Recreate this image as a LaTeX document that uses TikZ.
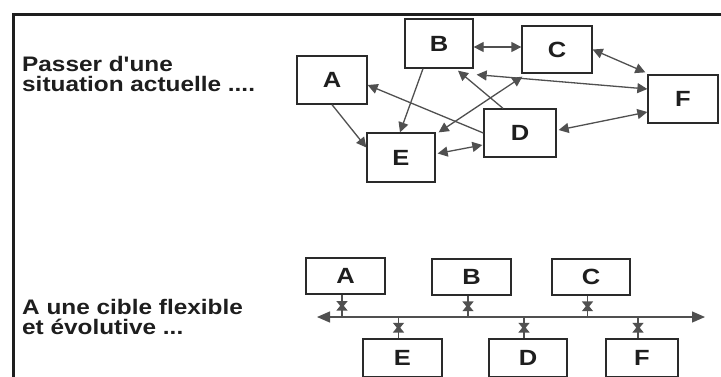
\documentclass[tikz,border=0pt]{standalone}
\usepackage{fontspec}
\newfontfamily\labfont{Liberation Sans}[FakeStretch=1.16]
\usetikzlibrary{arrows.meta,calc,decorations.markings}
\definecolor{boxc}{HTML}{2A2A2A}
\definecolor{arrc}{HTML}{505050}
\definecolor{framec}{HTML}{1E1E1E}
\definecolor{txtc}{HTML}{1E1E1E}
\begin{document}
\begin{tikzpicture}[x=1pt,y=-1pt,
  box/.style={draw=boxc, line width=1.3pt, fill=white, inner sep=0pt,
    font=\labfont\bfseries\fontsize{22}{22}\selectfont, text=txtc},
  conn/.style={draw=arrc, line width=1.3pt},
  >={Triangle[length=10pt,width=10pt]},
  txt/.style={font=\labfont\bfseries\fontsize{21}{20}\selectfont, align=left,
    inner sep=0pt, anchor=north west, text=txtc},
  bowtie/.style={postaction={decorate}, decoration={markings,
    mark=at position 0.6 with {\arrow[arrc]{Triangle[length=7pt,width=11pt]}},
    mark=at position 0.4 with {\arrowreversed[arrc]{Triangle[length=7pt,width=11pt]}}}}]
\clip (0,0) rectangle (721,376);
\fill[white] (0,0) rectangle (721,376);
% frame
\draw[line width=3pt, framec] (13,400) -- (13,14) -- (730,14);
% texts
\node[txt] (t1) at (22,56) {Passer d'une\\situation actuelle ....};
\node[txt] (t2) at (22,299) {A une cible flexible\\et évolutive ...};
% top boxes
\node[box, minimum width=70pt, minimum height=48pt] (A) at (332,80) {A};
\node[box, minimum width=68pt, minimum height=49pt] (B) at (439,43.5) {B};
\node[box, minimum width=70pt, minimum height=47pt] (C) at (557,49.5) {C};
\node[box, minimum width=70pt, minimum height=48pt] (F) at (683,99) {F};
\node[box, minimum width=72pt, minimum height=48pt] (D) at (520,133) {D};
\node[box, minimum width=68pt, minimum height=49pt] (E) at (401,157.5) {E};
% top connectors
\draw[conn,<->] ($(B.east)+(0,3.5)$) -- ($(C.west)+(0,-2.5)$);
\draw[conn,<->] (C.east) -- ($(F.north west)+(-2,-2)$);
\draw[conn,->] ($(B.south)+(-16,0)$) -- ($(E.north)+(-1,0)$);
\draw[conn,->] (A.south) -- ($(E.west)+(0,-10)$);
\draw[conn,->] (D.west) -- ($(A.east)+(0,5)$);
\draw[conn,->] ($(D.north)+(-17,0)$) -- ($(B.south)+(19,2)$);
\draw[conn,<->] ($(E.north east)+(3,0)$) -- ($(C.south west)+(1,3)$);
\draw[conn,<->] ($(B.south east)+(3,6)$) -- ($(F.west)+(0,-10)$);
\draw[conn,<->] ($(D.east)+(2,-3)$) -- ($(F.west)+(0,13)$);
\draw[conn,<->] ($(E.east)+(2,-4)$) -- ($(D.west)+(-1,12)$);
% bottom boxes
\node[box, minimum width=79pt, minimum height=36pt] (A2) at (345.5,276) {A};
\node[box, minimum width=79pt, minimum height=36pt] (B2) at (471.5,277) {B};
\node[box, minimum width=78pt, minimum height=36pt] (C2) at (591,277) {C};
\node[box, minimum width=79pt, minimum height=38pt] (E2) at (402.5,358) {E};
\node[box, minimum width=78pt, minimum height=38pt] (D2) at (528,358) {D};
\node[box, minimum width=72pt, minimum height=38pt] (F2) at (642,358) {F};
% bus
\coordinate (busL) at (317,317);
\coordinate (busR) at (705,317);
\draw[conn, {Triangle[length=13pt,width=11pt]}-{Triangle[length=13pt,width=11pt]}] (busL) -- (busR);
\foreach \n in {A2,B2,C2} {
  \coordinate (p\n) at ($(\n.south)+(-3.5,0)$);
  \draw[conn,bowtie] (p\n) -- (p\n |- busL);
}
\foreach \n in {E2,D2,F2} {
  \coordinate (p\n) at ($(\n.north)+(-4,0)$);
  \draw[conn,bowtie] (p\n) -- (p\n |- busL);
}
\end{tikzpicture}
\end{document}
